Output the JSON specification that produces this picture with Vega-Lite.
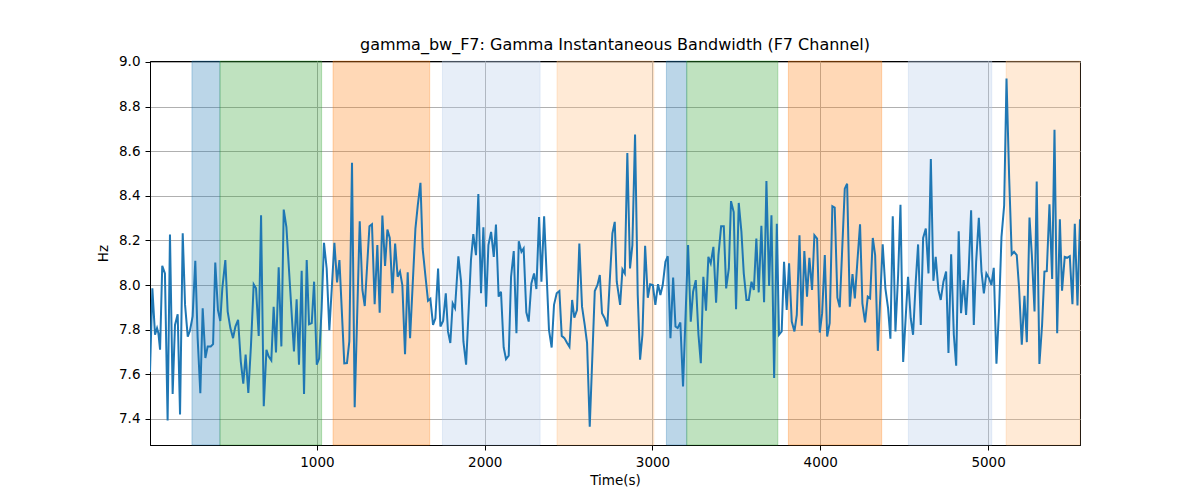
{
  "$schema": "https://vega.github.io/schema/vega-lite/v6.json",
  "width": 930,
  "height": 384,
  "autosize": "none",
  "padding": {"left": 150, "top": 61, "right": 120, "bottom": 55},
  "background": "white",
  "title": {
    "text": "gamma_bw_F7: Gamma Instantaneous Bandwidth (F7 Channel)",
    "font": "DejaVu Sans",
    "fontSize": 16,
    "fontWeight": "normal",
    "color": "black",
    "offset": 2
  },
  "config": {
    "view": {"stroke": "black", "strokeWidth": 1},
    "axis": {
      "domainColor": "black",
      "tickColor": "black",
      "tickSize": 5,
      "labelFont": "DejaVu Sans",
      "labelFontSize": 13.5,
      "labelColor": "black",
      "labelPadding": 4,
      "titleFont": "DejaVu Sans",
      "titleFontSize": 13.5,
      "titleFontWeight": "normal",
      "titleColor": "black",
      "gridColor": "#b0b0b0",
      "gridWidth": 1
    }
  },
  "datasets": {
    "bands": [
      {"start": 255, "end": 422, "kind": "a"},
      {"start": 422, "end": 1028, "kind": "b"},
      {"start": 1096, "end": 1672, "kind": "c"},
      {"start": 1748, "end": 2330, "kind": "d"},
      {"start": 2431, "end": 3008, "kind": "e"},
      {"start": 3083, "end": 3204, "kind": "a"},
      {"start": 3204, "end": 3747, "kind": "b"},
      {"start": 3810, "end": 4366, "kind": "c"},
      {"start": 4525, "end": 5022, "kind": "d"},
      {"start": 5108, "end": 5548, "kind": "e"}
    ],
    "series": [
      {"t": 5, "hz": 7.61}, {"t": 19, "hz": 7.985}, {"t": 35, "hz": 7.777}, {"t": 47, "hz": 7.807},
      {"t": 55, "hz": 7.784}, {"t": 65, "hz": 7.71}, {"t": 78, "hz": 8.086}, {"t": 94, "hz": 8.052},
      {"t": 110, "hz": 7.393}, {"t": 124, "hz": 8.226}, {"t": 140, "hz": 7.512}, {"t": 154, "hz": 7.821},
      {"t": 170, "hz": 7.869}, {"t": 184, "hz": 7.42}, {"t": 200, "hz": 8.232}, {"t": 214, "hz": 7.911},
      {"t": 230, "hz": 7.769}, {"t": 243, "hz": 7.795}, {"t": 259, "hz": 7.859}, {"t": 275, "hz": 8.109},
      {"t": 289, "hz": 7.762}, {"t": 305, "hz": 7.515}, {"t": 319, "hz": 7.896}, {"t": 335, "hz": 7.673},
      {"t": 349, "hz": 7.725}, {"t": 367, "hz": 7.725}, {"t": 381, "hz": 7.735}, {"t": 394, "hz": 8.101},
      {"t": 410, "hz": 7.888}, {"t": 424, "hz": 7.839}, {"t": 436, "hz": 7.985}, {"t": 454, "hz": 8.112},
      {"t": 468, "hz": 7.881}, {"t": 484, "hz": 7.807}, {"t": 500, "hz": 7.762}, {"t": 514, "hz": 7.814},
      {"t": 530, "hz": 7.844}, {"t": 546, "hz": 7.658}, {"t": 561, "hz": 7.558}, {"t": 575, "hz": 7.688},
      {"t": 591, "hz": 7.516}, {"t": 607, "hz": 7.732}, {"t": 623, "hz": 8.003}, {"t": 637, "hz": 7.985},
      {"t": 653, "hz": 7.772}, {"t": 667, "hz": 8.313}, {"t": 683, "hz": 7.457}, {"t": 699, "hz": 7.71},
      {"t": 712, "hz": 7.68}, {"t": 728, "hz": 7.662}, {"t": 742, "hz": 7.902}, {"t": 756, "hz": 7.698},
      {"t": 772, "hz": 8.079}, {"t": 788, "hz": 7.725}, {"t": 802, "hz": 8.338}, {"t": 818, "hz": 8.26},
      {"t": 863, "hz": 7.702}, {"t": 879, "hz": 7.936}, {"t": 893, "hz": 7.643}, {"t": 909, "hz": 8.064},
      {"t": 923, "hz": 7.512}, {"t": 939, "hz": 8.112}, {"t": 953, "hz": 7.824}, {"t": 969, "hz": 7.829},
      {"t": 983, "hz": 8.015}, {"t": 999, "hz": 7.643}, {"t": 1013, "hz": 7.67}, {"t": 1028, "hz": 7.896},
      {"t": 1042, "hz": 8.189}, {"t": 1058, "hz": 8.074}, {"t": 1074, "hz": 7.798}, {"t": 1104, "hz": 8.189},
      {"t": 1120, "hz": 8.012}, {"t": 1134, "hz": 8.112}, {"t": 1163, "hz": 7.649}, {"t": 1179, "hz": 7.65},
      {"t": 1193, "hz": 7.747}, {"t": 1209, "hz": 8.548}, {"t": 1225, "hz": 7.452}, {"t": 1255, "hz": 8.286},
      {"t": 1271, "hz": 7.978}, {"t": 1285, "hz": 7.906}, {"t": 1313, "hz": 8.263}, {"t": 1328, "hz": 8.272},
      {"t": 1344, "hz": 7.914}, {"t": 1360, "hz": 8.179}, {"t": 1374, "hz": 7.876}, {"t": 1390, "hz": 8.311},
      {"t": 1406, "hz": 8.086}, {"t": 1420, "hz": 8.249}, {"t": 1434, "hz": 8.211}, {"t": 1450, "hz": 7.963},
      {"t": 1466, "hz": 8.186}, {"t": 1481, "hz": 8.037}, {"t": 1495, "hz": 8.06}, {"t": 1509, "hz": 8.0},
      {"t": 1525, "hz": 7.69}, {"t": 1541, "hz": 8.057}, {"t": 1555, "hz": 7.762}, {"t": 1587, "hz": 8.253},
      {"t": 1601, "hz": 8.357}, {"t": 1617, "hz": 8.458}, {"t": 1630, "hz": 8.164}, {"t": 1646, "hz": 8.045},
      {"t": 1662, "hz": 7.929}, {"t": 1676, "hz": 7.938}, {"t": 1692, "hz": 7.821}, {"t": 1706, "hz": 7.851},
      {"t": 1722, "hz": 8.074}, {"t": 1736, "hz": 7.814}, {"t": 1752, "hz": 7.839}, {"t": 1768, "hz": 7.963},
      {"t": 1781, "hz": 7.792}, {"t": 1795, "hz": 7.74}, {"t": 1809, "hz": 7.918}, {"t": 1823, "hz": 7.896},
      {"t": 1843, "hz": 8.129}, {"t": 1859, "hz": 8.015}, {"t": 1873, "hz": 7.747}, {"t": 1889, "hz": 7.643},
      {"t": 1918, "hz": 8.112}, {"t": 1932, "hz": 8.228}, {"t": 1948, "hz": 8.134}, {"t": 1962, "hz": 8.408},
      {"t": 1978, "hz": 7.963}, {"t": 1992, "hz": 8.259}, {"t": 2008, "hz": 7.903}, {"t": 2022, "hz": 8.179},
      {"t": 2038, "hz": 8.238}, {"t": 2054, "hz": 8.126}, {"t": 2067, "hz": 8.271}, {"t": 2083, "hz": 7.948},
      {"t": 2097, "hz": 7.97}, {"t": 2113, "hz": 7.72}, {"t": 2127, "hz": 7.668}, {"t": 2143, "hz": 7.683},
      {"t": 2157, "hz": 8.037}, {"t": 2173, "hz": 8.152}, {"t": 2189, "hz": 7.784}, {"t": 2203, "hz": 8.196},
      {"t": 2219, "hz": 8.149}, {"t": 2232, "hz": 8.164}, {"t": 2248, "hz": 7.878}, {"t": 2262, "hz": 7.836},
      {"t": 2278, "hz": 8.007}, {"t": 2294, "hz": 8.052}, {"t": 2308, "hz": 7.982}, {"t": 2324, "hz": 8.305},
      {"t": 2338, "hz": 8.015}, {"t": 2354, "hz": 8.308}, {"t": 2383, "hz": 7.799}, {"t": 2399, "hz": 7.72},
      {"t": 2413, "hz": 7.911}, {"t": 2429, "hz": 7.963}, {"t": 2445, "hz": 7.973}, {"t": 2459, "hz": 7.772},
      {"t": 2475, "hz": 7.762}, {"t": 2491, "hz": 7.74}, {"t": 2505, "hz": 7.723}, {"t": 2521, "hz": 7.933},
      {"t": 2534, "hz": 7.854}, {"t": 2550, "hz": 7.888}, {"t": 2564, "hz": 8.186}, {"t": 2580, "hz": 7.903},
      {"t": 2596, "hz": 7.821}, {"t": 2610, "hz": 7.74}, {"t": 2626, "hz": 7.365}, {"t": 2656, "hz": 7.973},
      {"t": 2672, "hz": 8.0}, {"t": 2686, "hz": 8.045}, {"t": 2699, "hz": 7.874}, {"t": 2715, "hz": 7.851},
      {"t": 2731, "hz": 7.814}, {"t": 2745, "hz": 8.015}, {"t": 2761, "hz": 8.231}, {"t": 2775, "hz": 8.283},
      {"t": 2787, "hz": 8.015}, {"t": 2807, "hz": 7.911}, {"t": 2821, "hz": 8.07}, {"t": 2835, "hz": 8.052},
      {"t": 2850, "hz": 8.592}, {"t": 2866, "hz": 8.074}, {"t": 2880, "hz": 8.179}, {"t": 2896, "hz": 8.674},
      {"t": 2912, "hz": 7.955}, {"t": 2926, "hz": 7.665}, {"t": 2940, "hz": 7.777}, {"t": 2956, "hz": 8.176},
      {"t": 2972, "hz": 7.943}, {"t": 2986, "hz": 8.003}, {"t": 3002, "hz": 8.0}, {"t": 3017, "hz": 7.911},
      {"t": 3033, "hz": 8.004}, {"t": 3047, "hz": 7.955}, {"t": 3061, "hz": 8.0}, {"t": 3077, "hz": 8.104},
      {"t": 3091, "hz": 8.129}, {"t": 3107, "hz": 7.762}, {"t": 3123, "hz": 8.033}, {"t": 3137, "hz": 7.814},
      {"t": 3150, "hz": 7.807}, {"t": 3166, "hz": 7.832}, {"t": 3182, "hz": 7.545}, {"t": 3212, "hz": 8.179},
      {"t": 3228, "hz": 7.836}, {"t": 3242, "hz": 7.97}, {"t": 3258, "hz": 8.022}, {"t": 3274, "hz": 7.777},
      {"t": 3288, "hz": 7.65}, {"t": 3303, "hz": 8.037}, {"t": 3319, "hz": 7.885}, {"t": 3333, "hz": 8.126},
      {"t": 3347, "hz": 8.097}, {"t": 3363, "hz": 8.171}, {"t": 3379, "hz": 7.921}, {"t": 3393, "hz": 8.134},
      {"t": 3409, "hz": 8.263}, {"t": 3425, "hz": 8.263}, {"t": 3439, "hz": 7.985}, {"t": 3455, "hz": 8.074},
      {"t": 3468, "hz": 8.376}, {"t": 3484, "hz": 8.327}, {"t": 3498, "hz": 7.891}, {"t": 3514, "hz": 8.368},
      {"t": 3530, "hz": 8.238}, {"t": 3544, "hz": 8.052}, {"t": 3560, "hz": 7.933}, {"t": 3574, "hz": 7.933},
      {"t": 3590, "hz": 8.015}, {"t": 3604, "hz": 7.978}, {"t": 3619, "hz": 8.208}, {"t": 3633, "hz": 7.967},
      {"t": 3649, "hz": 8.265}, {"t": 3665, "hz": 7.923}, {"t": 3679, "hz": 8.466}, {"t": 3695, "hz": 7.996},
      {"t": 3709, "hz": 8.313}, {"t": 3725, "hz": 7.583}, {"t": 3741, "hz": 8.275}, {"t": 3754, "hz": 7.777},
      {"t": 3770, "hz": 7.792}, {"t": 3784, "hz": 8.104}, {"t": 3800, "hz": 7.888}, {"t": 3814, "hz": 8.097},
      {"t": 3830, "hz": 7.836}, {"t": 3846, "hz": 7.792}, {"t": 3860, "hz": 7.866}, {"t": 3876, "hz": 8.223},
      {"t": 3890, "hz": 7.818}, {"t": 3905, "hz": 8.152}, {"t": 3921, "hz": 7.948}, {"t": 3935, "hz": 8.122},
      {"t": 3951, "hz": 7.978}, {"t": 3965, "hz": 8.223}, {"t": 3981, "hz": 8.208}, {"t": 3997, "hz": 7.787},
      {"t": 4011, "hz": 7.874}, {"t": 4027, "hz": 8.134}, {"t": 4041, "hz": 7.769}, {"t": 4056, "hz": 7.829},
      {"t": 4072, "hz": 8.353}, {"t": 4086, "hz": 8.347}, {"t": 4102, "hz": 7.943}, {"t": 4116, "hz": 7.9},
      {"t": 4146, "hz": 8.432}, {"t": 4160, "hz": 8.454}, {"t": 4176, "hz": 7.903}, {"t": 4192, "hz": 8.049},
      {"t": 4206, "hz": 7.94}, {"t": 4221, "hz": 8.104}, {"t": 4237, "hz": 8.272}, {"t": 4251, "hz": 7.918},
      {"t": 4267, "hz": 7.833}, {"t": 4283, "hz": 7.948}, {"t": 4297, "hz": 7.94}, {"t": 4313, "hz": 8.211},
      {"t": 4327, "hz": 8.134}, {"t": 4343, "hz": 7.705}, {"t": 4372, "hz": 8.183}, {"t": 4388, "hz": 7.985},
      {"t": 4404, "hz": 7.896}, {"t": 4418, "hz": 7.759}, {"t": 4432, "hz": 8.308}, {"t": 4448, "hz": 7.792},
      {"t": 4464, "hz": 8.045}, {"t": 4478, "hz": 8.36}, {"t": 4494, "hz": 7.655}, {"t": 4510, "hz": 7.866},
      {"t": 4523, "hz": 8.037}, {"t": 4539, "hz": 7.851}, {"t": 4553, "hz": 7.777}, {"t": 4569, "hz": 8.015},
      {"t": 4583, "hz": 8.182}, {"t": 4599, "hz": 7.821}, {"t": 4613, "hz": 8.211}, {"t": 4629, "hz": 8.253},
      {"t": 4645, "hz": 8.052}, {"t": 4659, "hz": 8.565}, {"t": 4674, "hz": 8.019}, {"t": 4688, "hz": 8.126},
      {"t": 4704, "hz": 7.978}, {"t": 4718, "hz": 7.933}, {"t": 4734, "hz": 8.015}, {"t": 4750, "hz": 8.06},
      {"t": 4764, "hz": 7.695}, {"t": 4780, "hz": 8.138}, {"t": 4796, "hz": 7.777}, {"t": 4810, "hz": 7.638},
      {"t": 4825, "hz": 8.241}, {"t": 4839, "hz": 7.874}, {"t": 4855, "hz": 8.022}, {"t": 4869, "hz": 7.866},
      {"t": 4885, "hz": 8.074}, {"t": 4899, "hz": 8.335}, {"t": 4915, "hz": 7.821}, {"t": 4929, "hz": 8.104},
      {"t": 4945, "hz": 8.301}, {"t": 4961, "hz": 8.06}, {"t": 4975, "hz": 7.963}, {"t": 4990, "hz": 8.052},
      {"t": 5006, "hz": 8.03}, {"t": 5020, "hz": 8.0}, {"t": 5034, "hz": 8.077}, {"t": 5050, "hz": 7.647},
      {"t": 5066, "hz": 7.896}, {"t": 5080, "hz": 8.216}, {"t": 5096, "hz": 8.357}, {"t": 5110, "hz": 8.926},
      {"t": 5126, "hz": 8.476}, {"t": 5141, "hz": 8.137}, {"t": 5155, "hz": 8.149}, {"t": 5171, "hz": 8.134},
      {"t": 5185, "hz": 7.985}, {"t": 5201, "hz": 7.732}, {"t": 5217, "hz": 7.952}, {"t": 5231, "hz": 7.744},
      {"t": 5247, "hz": 8.302}, {"t": 5261, "hz": 8.134}, {"t": 5277, "hz": 7.881}, {"t": 5290, "hz": 8.464},
      {"t": 5306, "hz": 7.646}, {"t": 5322, "hz": 7.821}, {"t": 5336, "hz": 8.06}, {"t": 5350, "hz": 8.062},
      {"t": 5366, "hz": 8.362}, {"t": 5382, "hz": 8.027}, {"t": 5396, "hz": 8.696}, {"t": 5412, "hz": 7.784},
      {"t": 5428, "hz": 8.295}, {"t": 5441, "hz": 7.975}, {"t": 5457, "hz": 8.126}, {"t": 5471, "hz": 8.122},
      {"t": 5487, "hz": 8.129}, {"t": 5503, "hz": 7.914}, {"t": 5517, "hz": 8.275}, {"t": 5533, "hz": 7.908},
      {"t": 5548, "hz": 8.295}
    ]
  },
  "layer": [
    {
      "data": {"name": "bands"},
      "mark": {"type": "rect", "fillOpacity": 0.3, "strokeOpacity": 0.3, "strokeWidth": 1},
      "encoding": {
        "x": {
          "field": "start",
          "type": "quantitative",
          "scale": {"domain": [5, 5548], "nice": false, "zero": false},
          "axis": {"title": "Time(s)", "values": [1000, 2000, 3000, 4000, 5000], "format": "d", "titlePadding": 5, "labelPadding": 5}
        },
        "x2": {"field": "end"},
        "color": {
          "field": "kind",
          "type": "nominal",
          "scale": {"domain": ["a", "b", "c", "d", "e"], "range": ["#1f77b4", "#2ca02c", "#ff7f0e", "#aec7e8", "#ffbb78"]},
          "legend": null
        },
        "stroke": {
          "field": "kind",
          "type": "nominal",
          "scale": {"domain": ["a", "b", "c", "d", "e"], "range": ["#1f77b4", "#2ca02c", "#ff7f0e", "#aec7e8", "#ffbb78"]},
          "legend": null
        }
      }
    },
    {
      "data": {"name": "series"},
      "mark": {"type": "line", "color": "#1f77b4", "strokeWidth": 2, "clip": true},
      "encoding": {
        "x": {
          "field": "t",
          "type": "quantitative",
          "scale": {"domain": [5, 5548], "nice": false, "zero": false},
          "axis": {"title": "Time(s)", "values": [1000, 2000, 3000, 4000, 5000], "format": "d", "titlePadding": 5, "labelPadding": 5}
        },
        "y": {
          "field": "hz",
          "type": "quantitative",
          "scale": {"domain": [7.283, 9.004], "nice": false, "zero": false},
          "axis": {"title": "Hz", "values": [7.4, 7.6, 7.8, 8.0, 8.2, 8.4, 8.6, 8.8, 9.0], "format": ".1f", "titlePadding": 8, "labelPadding": 5}
        }
      }
    }
  ]
}
